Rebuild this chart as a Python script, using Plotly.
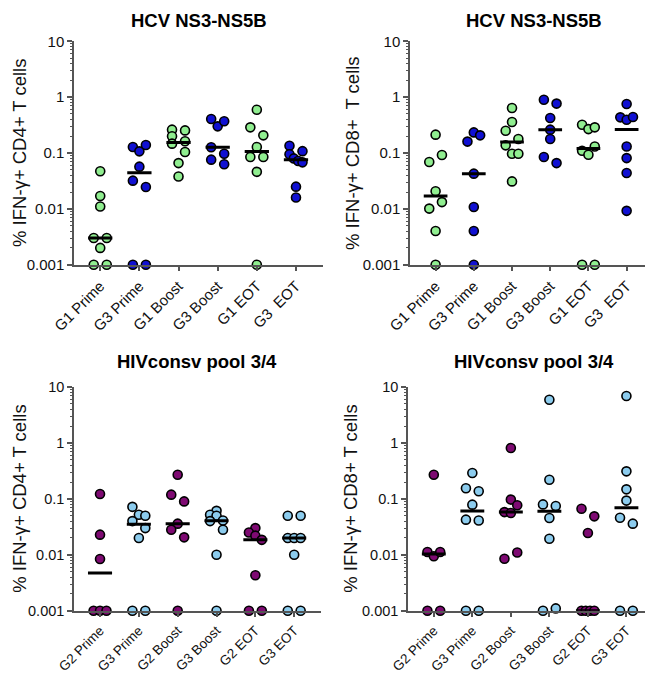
import numpy as np
import plotly.graph_objects as go

# ---------------- data ----------------
top_cats = ["G1 Prime", "G3 Prime", "G1 Boost", "G3 Boost", "G1 EOT", "G3  EOT"]
bot_cats = ["G2 Prime", "G3 Prime", "G2 Boost", "G3 Boost", "G2 EOT", "G3 EOT"]

hcv_cd4 = [
    [0.047, 0.011, 0.017, 0.003, 0.003, 0.002, 0.001, 0.001],
    [0.128, 0.107, 0.139, 0.057, 0.032, 0.0246, 0.001, 0.001],
    [0.262, 0.254, 0.199, 0.147, 0.162, 0.104, 0.066, 0.038],
    [0.406, 0.30, 0.37, 0.127, 0.097, 0.076, 0.063],
    [0.596, 0.288, 0.207, 0.128, 0.085, 0.085, 0.046, 0.001],
    [0.135, 0.095, 0.108, 0.080, 0.072, 0.068, 0.025, 0.016],
]
hcv_cd8 = [
    [0.213, 0.069, 0.092, 0.0206, 0.0101, 0.0132, 0.004, 0.001],
    [0.234, 0.16, 0.207, 0.0427, 0.0108, 0.004, 0.001],
    [0.64, 0.359, 0.251, 0.178, 0.137, 0.097, 0.097, 0.031],
    [0.90, 0.766, 0.424, 0.262, 0.178, 0.085, 0.066],
    [0.32, 0.268, 0.288, 0.11, 0.093, 0.131, 0.001, 0.001],
    [0.753, 0.435, 0.394, 0.44, 0.131, 0.081, 0.0438, 0.0092],
]
hiv_cd4 = [
    [0.122, 0.0229, 0.0084, 0.001, 0.001, 0.001],
    [0.072, 0.052, 0.050, 0.040, 0.030, 0.020, 0.001, 0.001],
    [0.27, 0.119, 0.090, 0.036, 0.028, 0.0205, 0.001],
    [0.061, 0.052, 0.050, 0.041, 0.040, 0.028, 0.010, 0.001],
    [0.030, 0.025, 0.022, 0.0185, 0.0043, 0.001, 0.001],
    [0.05, 0.05, 0.02, 0.02, 0.02, 0.01, 0.001, 0.001],
]
hiv_cd8 = [
    [0.27, 0.0112, 0.0094, 0.0112, 0.001, 0.001],
    [0.29, 0.155, 0.137, 0.0787, 0.0425, 0.041, 0.001, 0.001],
    [0.81, 0.097, 0.058, 0.056, 0.077, 0.0085, 0.011],
    [5.93, 0.22, 0.0795, 0.0745, 0.0454, 0.0194, 0.001, 0.0011],
    [0.0667, 0.0486, 0.0245, 0.001, 0.001, 0.001, 0.001],
    [6.9, 0.31, 0.148, 0.093, 0.046, 0.036, 0.001, 0.001],
]

top_title = "HCV NS3-NS5B"
bot_title = "HIVconsv pool 3/4"
ytitles = ["% IFN-\u03b3+ CD4+ T cells", "% IFN-\u03b3+ CD8+\u00a0 T cells",
           "% IFN-\u03b3+ CD4+ T cells", "% IFN-\u03b3+ CD8+ T cells"]
ytick_vals = [0.001, 0.01, 0.1, 1, 10]
ytick_text = ["0.001", "0.01", "0.1", "1", "10"]

GREEN = "#90EE90"
BLUE = "#1010D2"
PURPLE = "#7E0A72"
LBLUE = "#8CCCEE"

W, H = 653, 675
FONT = "Liberation Sans, Arial, sans-serif"


def swarm_offsets(vals, tol=0.16, half=0.166):
    logs = np.log10(np.asarray(vals, dtype=float))
    order = np.argsort(logs, kind="stable")
    off = np.zeros(len(vals))
    i = 0
    while i < len(order):
        start = logs[order[i]]
        j = i
        while j < len(order) and logs[order[j]] - start < tol:
            j += 1
        members = sorted(order[i:j])
        n = len(members)
        if n > 1:
            for k, m in enumerate(members):
                off[m] = -half + 2 * half * k / (n - 1)
        i = j
    return off


panels = [
    dict(data=hcv_cd4, cats=top_cats, colors=[GREEN, BLUE], x=(66, 315), y=(33.3, 256.7), title=top_title, tx=191, ty=12, ytx=12),
    dict(data=hcv_cd8, cats=top_cats, colors=[GREEN, BLUE], x=(402, 645), y=(33.3, 256.7), title=top_title, tx=526, ty=12, ytx=345),
    dict(data=hiv_cd4, cats=bot_cats, colors=[PURPLE, LBLUE], x=(66, 313), y=(379, 602.7), title=bot_title, tx=189, ty=353, ytx=12),
    dict(data=hiv_cd8, cats=bot_cats, colors=[PURPLE, LBLUE], x=(400, 645), y=(379, 602.7), title=bot_title, tx=526, ty=353, ytx=343),
]

minor_vals = [k * 10.0 ** e for e in range(-3, 1) for k in range(2, 10)]

fig = go.Figure()
layout = dict(
    width=W, height=H, margin=dict(l=0, r=0, t=0, b=0),
    paper_bgcolor="white", plot_bgcolor="white", showlegend=False,
    font=dict(family=FONT, color="#111"),
)
annotations = []
AX = "#555555"

for p_i, p in enumerate(panels):
    n = p_i + 1
    xa = "x" if n == 1 else f"x{n}"
    ya = "y" if n == 1 else f"y{n}"
    xkey = "xaxis" if n == 1 else f"xaxis{n}"
    ykey = "yaxis" if n == 1 else f"yaxis{n}"
    top = p_i < 2
    tickfont = 15 if top else 13.5
    layout[xkey] = dict(
        domain=[p["x"][0] / W, p["x"][1] / W], anchor=ya, automargin=False,
        range=[-0.67, 5.69], showgrid=False, zeroline=False,
        showline=True, linecolor=AX, linewidth=1.5,
        ticks="outside", ticklen=5, tickwidth=1.5, tickcolor=AX,
        tickmode="array", tickvals=list(range(6)), ticktext=p["cats"],
        tickangle=-45, tickfont=dict(size=tickfont, family=FONT, color="#111"),
    )
    layout[ykey] = dict(
        domain=[1 - p["y"][1] / H, 1 - p["y"][0] / H], anchor=xa, automargin=False,
        type="log", range=[-3, 1], showgrid=False, zeroline=False,
        showline=True, linecolor=AX, linewidth=1.5,
        ticks="outside", ticklen=5, tickwidth=1.5, tickcolor=AX,
        tickmode="array", tickvals=ytick_vals, ticktext=ytick_text,
        tickfont=dict(size=15 if top else 14.5, family=FONT, color="#111"),
        minor=dict(tickmode="array", tickvals=minor_vals, ticks="outside",
                   ticklen=2.5, tickwidth=1, tickcolor=AX, showgrid=False),
    )
    # points
    for g, vals in enumerate(p["data"]):
        col = p["colors"][g % 2]
        off = swarm_offsets(vals)
        fig.add_trace(go.Scatter(
            x=g + off, y=vals, mode="markers", xaxis=xa, yaxis=ya,
            cliponaxis=False,
            marker=dict(size=9, color=col, line=dict(color="black", width=1.6)),
            hoverinfo="y",
        ))
    # medians
    for g, vals in enumerate(p["data"]):
        med = float(np.median(vals))
        fig.add_trace(go.Scatter(
            x=[g - 0.31, g + 0.31], y=[med, med], mode="lines",
            xaxis=xa, yaxis=ya, cliponaxis=False,
            line=dict(color="black", width=3), hoverinfo="skip",
        ))
    annotations.append(dict(
        text=f"<b>{p['title']}</b>", x=p["tx"] / W, y=1 - p["ty"] / H,
        xref="paper", yref="paper", showarrow=False, xanchor="center", yanchor="middle",
        font=dict(size=18.5, family=FONT, color="black"),
    ))
    annotations.append(dict(
        text=ytitles[p_i], x=p["ytx"] / W, y=1 - (p["y"][0] + p["y"][1]) / 2 / H,
        xref="paper", yref="paper", showarrow=False, xanchor="center", yanchor="middle",
        textangle=-90, font=dict(size=18.5, family=FONT, color="#111"),
    ))

layout["annotations"] = annotations
fig.update_layout(**layout)
fig.write_html("out.html")
